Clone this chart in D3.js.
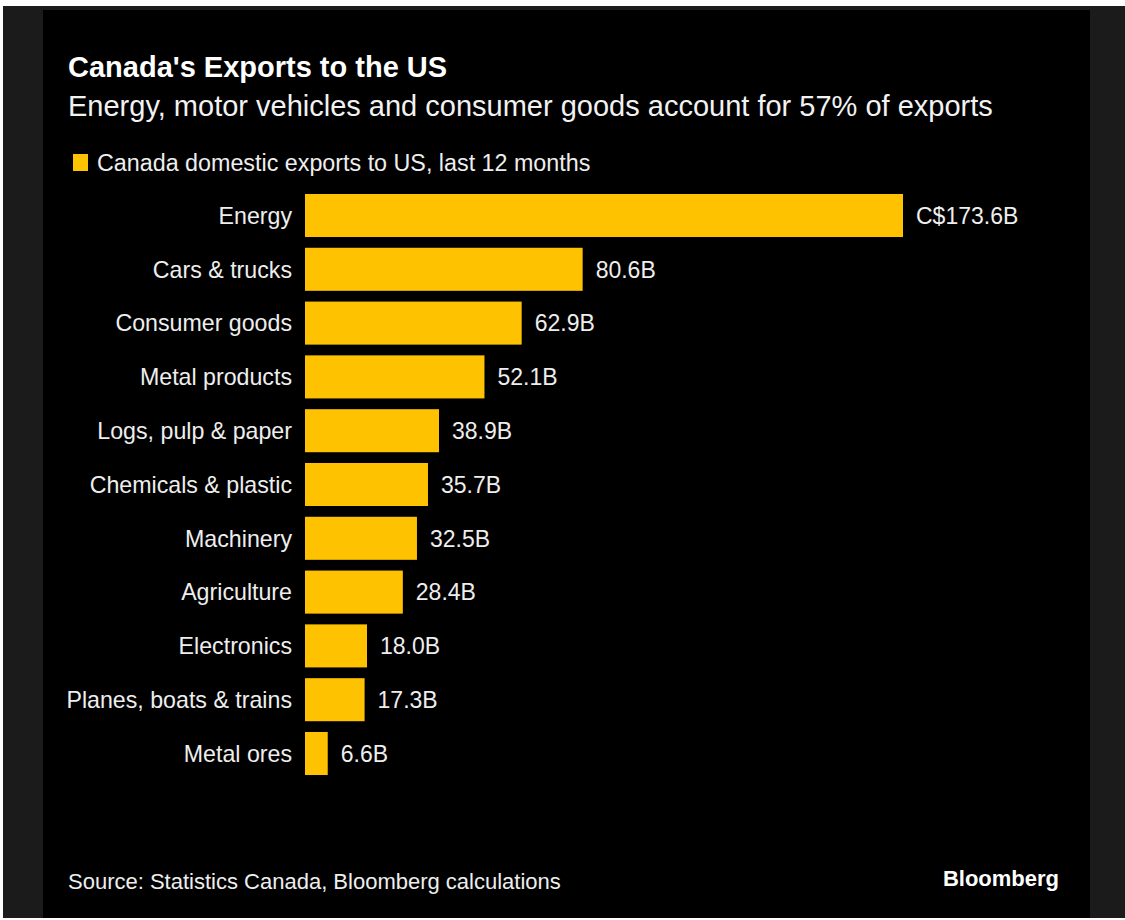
<!DOCTYPE html>
<html>
<head>
<meta charset="utf-8">
<script src="https://cdn.jsdelivr.net/npm/d3@7"></script>
<style>
  html, body { margin: 0; padding: 0; background: #fff; }
  svg { display: block; }
  text { font-family: "Liberation Sans", Arial, Helvetica, sans-serif; }
</style>
</head>
<body>
<script>
// Canada domestic exports to US, last 12 months (C$ billions)
const categories = ["Energy", "Cars & trucks", "Consumer goods", "Metal products",
    "Logs, pulp & paper", "Chemicals & plastic", "Machinery", "Agriculture",
    "Electronics", "Planes, boats & trains", "Metal ores"];
const values = [173.6, 80.6, 62.9, 52.1, 38.9, 35.7, 32.5, 28.4, 18.0, 17.3, 6.6];

const title = "Canada's Exports to the US";
const subtitle = "Energy, motor vehicles and consumer goods account for 57% of exports";
const legendLabel = "Canada domestic exports to US, last 12 months";
const source = "Source: Statistics Canada, Bloomberg calculations";

const width = 1125;
const height = 920;
const yellow = "#ffc200";

const svg = d3.select("body")
    .append("svg")
    .attr("width", width)
    .attr("height", height)
    .attr("viewBox", [0, 0, width, height]);

// frame: dark gray surround, black card
svg.append("rect")
    .attr("x", 3).attr("y", 6)
    .attr("width", width - 3).attr("height", 912)
    .attr("fill", "#1b1b1b");
svg.append("rect")
    .attr("x", 43).attr("y", 10)
    .attr("width", 1047).attr("height", 908)
    .attr("fill", "#000");

// Scales
const x = d3.scaleLinear()
    .domain([0, d3.max(values)])
    .range([305, 903]);

const y = d3.scaleBand()
    .domain(categories)
    .range([188.6, 780.4])
    .paddingInner(0.2)
    .paddingOuter(0.1);

// Title block
svg.append("text")
    .attr("x", 68).attr("y", 77)
    .attr("fill", "#fff")
    .attr("font-size", 29)
    .attr("font-weight", "bold")
    .text(title);

svg.append("text")
    .attr("x", 68).attr("y", 116)
    .attr("fill", "#f2f2f2")
    .attr("font-size", 29)
    .text(subtitle);

// Legend
svg.append("rect")
    .attr("x", 73).attr("y", 154)
    .attr("width", 15).attr("height", 17)
    .attr("fill", yellow);

svg.append("text")
    .attr("x", 97).attr("y", 171)
    .attr("fill", "#eee")
    .attr("font-size", 23.3)
    .text(legendLabel);

// Bars
const rows = categories.map((c, i) => ({category: c, value: values[i]}));

svg.append("g")
    .selectAll("rect")
    .data(rows)
    .join("rect")
    .attr("x", x(0))
    .attr("y", d => y(d.category))
    .attr("width", d => x(d.value) - x(0))
    .attr("height", y.bandwidth())
    .attr("fill", yellow);

// Category labels
svg.append("g")
    .selectAll("text")
    .data(rows)
    .join("text")
    .attr("x", x(0) - 13)
    .attr("y", d => y(d.category) + y.bandwidth() / 2)
    .attr("dy", "0.36em")
    .attr("text-anchor", "end")
    .attr("fill", "#eee")
    .attr("font-size", 23.2)
    .text(d => d.category);

// Value labels
svg.append("g")
    .selectAll("text")
    .data(rows)
    .join("text")
    .attr("x", d => x(d.value) + 13)
    .attr("y", d => y(d.category) + y.bandwidth() / 2)
    .attr("dy", "0.36em")
    .attr("fill", "#eee")
    .attr("font-size", 23)
    .text((d, i) => (i === 0 ? "C$" : "") + d.value.toFixed(1) + "B");

// Footer
svg.append("text")
    .attr("x", 68).attr("y", 889)
    .attr("fill", "#eee")
    .attr("font-size", 22)
    .text(source);

svg.append("text")
    .attr("x", 1059).attr("y", 886)
    .attr("text-anchor", "end")
    .attr("fill", "#fff")
    .attr("font-family", "'Open Sans', sans-serif")
    .attr("font-size", 22)
    .attr("font-weight", 600)
    .text("Bloomberg");
</script>
</body>
</html>
